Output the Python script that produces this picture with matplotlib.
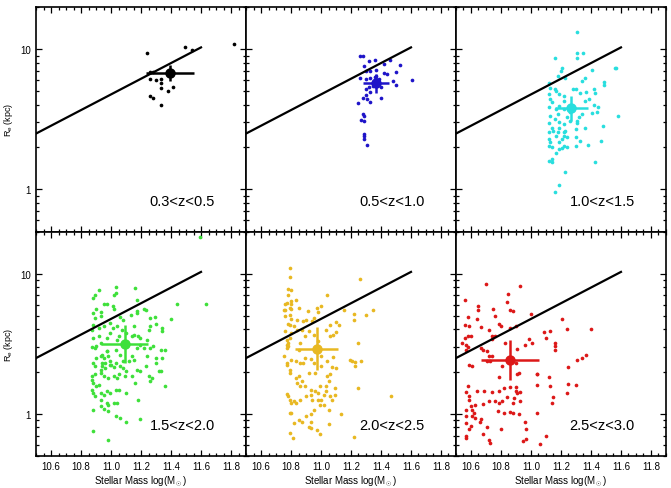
# -*- coding: utf-8 -*-
"""Re - stellar mass relation in six redshift bins"""

import matplotlib
matplotlib.use('Agg')
from matplotlib import pyplot as plt
from matplotlib.ticker import MultipleLocator, LogLocator, FixedLocator, NullFormatter
import numpy as np

plt.rcParams['font.family'] = ['Liberation Sans', 'DejaVu Sans']
plt.rcParams['mathtext.fontset'] = 'custom'
plt.rcParams['mathtext.rm'] = 'Liberation Sans'
plt.rcParams['mathtext.it'] = 'Liberation Sans'

# local relation (black line), end points
line_mass = [10.5, 11.6]
line_re = [2.5, 10.3]

z_labels = ['0.3<z<0.5', '0.5<z<1.0', '1.0<z<1.5', '1.5<z<2.0', '2.0<z<2.5', '2.5<z<3.0']
colors = ['black', '#1e14c8', '#28dede', '#3ee03a', '#e8b822', '#dc1818']

# 0.3<z<0.5
mass_1 = [11.24, 11.49, 11.54, 11.82, 11.26, 11.28, 11.26, 11.30, 11.33, 11.33,
          11.33, 11.38, 11.41, 11.26, 11.28, 11.33, 11.41]
re_1 = [9.4, 10.3, 9.9, 10.9, 6.9, 6.9, 6.1, 6.05, 6.1, 5.7,
        5.3, 5.05, 5.4, 4.66, 4.5, 3.99, 6.9]

# 0.5<z<1.0
mass_2 = [11.26, 11.28, 11.32, 11.36, 11.42, 11.46, 11.53, 11.29, 11.30, 11.33,
          11.37, 11.42, 11.44, 11.50, 11.26, 11.30, 11.33, 11.36, 11.39, 11.48,
          11.50, 11.61, 11.30, 11.32, 11.35, 11.33, 11.30, 11.28, 11.31, 11.33,
          11.25, 11.40, 11.28, 11.29, 11.27, 11.29, 11.29, 11.29, 11.29, 11.31,
          11.40, 11.37]
re_2 = [8.97, 8.97, 8.27, 8.41, 7.78, 8.41, 7.71, 7.62, 7.02, 7.02,
        7.13, 6.76, 6.64, 6.82, 6.22, 6.12, 6.18, 6.29, 6.12, 5.92,
        5.55, 6.05, 5.19, 5.33, 5.42, 4.91, 4.75, 4.48, 4.41, 4.17,
        4.12, 4.45, 3.44, 3.35, 3.14, 3.09, 2.48, 2.41, 2.28, 2.08,
        5.33, 6.46]

# 1.0<z<1.5
mass_3 = [11.31, 11.31, 11.31, 11.35, 11.16, 11.21, 11.20, 11.18, 11.23, 11.41,
          11.56, 11.57, 11.36, 11.34, 11.49, 11.49, 11.12, 11.13, 11.16, 11.17,
          11.12, 11.19, 11.22, 11.28, 11.30, 11.33, 11.37, 11.42, 11.43, 11.39,
          11.36, 11.42, 11.45, 11.44, 11.41, 11.34, 11.32, 11.58, 11.13, 11.14,
          11.12, 11.19, 11.22, 11.17, 11.13, 11.16, 11.12, 11.19, 11.22, 11.26,
          11.31, 11.31, 11.14, 11.19, 11.23, 11.22, 11.12, 11.17, 11.22, 11.30,
          11.36, 11.48, 11.30, 11.19, 11.22, 11.24, 11.12, 11.14, 11.33, 11.30,
          11.38, 11.47, 11.17, 11.19, 11.21, 11.12, 11.14, 11.14, 11.43, 11.23,
          11.19, 11.16, 11.26, 11.29, 11.22, 11.18, 11.24, 11.15, 11.18, 11.24,
          11.21, 11.12, 11.13]
re_3 = [13.3, 9.33, 8.59, 9.37, 8.64, 7.29, 7.02, 6.47, 6.23, 7.10,
        7.29, 7.29, 6.23, 5.96, 5.80, 5.57, 5.73, 5.31, 5.19, 5.05,
        4.79, 4.79, 4.66, 5.19, 5.19, 4.86, 4.97, 5.19, 4.86, 4.41,
        4.29, 3.99, 3.84, 3.54, 3.50, 3.44, 3.26, 3.31, 4.41, 4.17,
        3.84, 3.95, 4.29, 3.74, 3.35, 3.17, 2.97, 3.00, 2.92, 3.08,
        3.08, 2.97, 2.76, 2.76, 2.62, 2.55, 2.55, 2.41, 2.41, 2.69,
        2.72, 2.81, 2.35, 2.16, 2.05, 1.99, 2.05, 1.99, 2.22, 2.05,
        2.08, 2.20, 1.83, 1.94, 1.96, 1.60, 1.64, 1.56, 1.56, 1.34,
        1.08, 0.96, 3.54, 3.84, 3.74, 3.44, 3.26, 2.62, 2.55, 2.35,
        2.28, 2.28, 2.16]

# 1.5<z<2.0
mass_4 = [11.59, 11.63, 11.44, 11.40, 11.34, 11.34, 11.36, 11.36, 11.19, 11.10,
          11.06, 11.03, 10.98, 10.88, 10.88, 10.93, 10.95, 10.97, 10.98, 10.92,
          11.03, 11.16, 10.88, 10.89, 11.02, 11.03, 11.17, 10.95, 10.97, 11.01,
          11.02, 10.90, 10.88, 10.93, 10.89, 10.93, 11.08, 11.06, 11.13, 11.17,
          11.17, 11.22, 11.23, 11.26, 11.29, 11.30, 11.25, 11.04, 11.01, 10.99,
          10.95, 10.92, 10.88, 10.87, 10.88, 10.92, 10.97, 10.93, 10.87, 10.89,
          10.94, 10.90, 10.97, 10.98, 10.99, 10.96, 10.94, 10.93, 10.96, 10.99,
          11.03, 11.06, 11.08, 11.06, 11.03, 11.04, 11.10, 11.14, 11.15, 11.18,
          11.19, 11.24, 11.22, 11.26, 11.28, 11.33, 11.30, 11.34, 11.24, 11.30,
          11.23, 11.19, 11.17, 11.14, 11.10, 11.09, 11.25, 11.27, 11.26, 11.32,
          11.33, 11.19, 11.17, 11.14, 11.12, 11.15, 11.08, 11.05, 11.04, 11.02,
          10.98, 10.95, 10.93, 10.89, 10.87, 10.88, 10.92, 10.87, 10.90, 10.88,
          10.89, 10.93, 10.95, 10.97, 10.99, 11.03, 11.05, 11.10, 11.16, 11.18,
          10.93, 11.04, 11.02, 10.98, 10.87, 10.93, 10.94, 10.95, 10.97, 11.00,
          11.02, 11.07, 10.88, 10.90, 10.89, 10.99, 11.05, 11.15, 11.26]
re_4 = [18.3, 6.03, 6.03, 4.76, 4.10, 3.88, 2.87, 1.57, 0.92, 0.88,
        0.93, 0.96, 0.65, 0.75, 1.07, 1.13, 1.08, 1.19, 1.16, 7.71,
        8.05, 7.93, 6.72, 7.10, 7.10, 7.29, 6.53, 6.12, 6.12, 5.86,
        5.61, 5.61, 5.25, 5.31, 4.83, 4.97, 4.70, 4.91, 5.11, 5.25,
        5.40, 5.61, 5.48, 4.83, 4.91, 4.41, 3.95, 4.22, 4.10, 4.45,
        4.26, 4.10, 4.34, 3.99, 3.48, 3.57, 3.48, 3.21, 3.00, 2.95,
        2.64, 2.51, 2.79, 2.57, 2.37, 2.31, 2.18, 2.07, 2.12, 2.24,
        2.31, 2.18, 2.12, 2.64, 2.87, 3.39, 3.78, 3.57, 3.67, 3.61,
        3.48, 3.39, 2.95, 2.95, 3.03, 2.84, 2.51, 2.51, 2.57, 2.31,
        2.18, 2.01, 2.07, 1.85, 2.01, 1.85, 1.85, 1.80, 1.71, 2.01,
        2.01, 3.12, 2.95, 2.57, 2.37, 2.44, 2.37, 1.91, 1.80, 1.85,
        1.80, 1.85, 1.96, 1.91, 1.85, 1.66, 1.61, 1.49, 1.57, 1.41,
        1.33, 1.41, 1.37, 1.45, 1.41, 1.49, 1.49, 1.41, 1.66, 1.26,
        1.26, 1.19, 1.19, 1.04, 1.75, 2.57, 2.31, 2.51, 2.79, 2.24,
        2.16, 3.99, 2.31, 3.03, 2.18, 3.78, 3.57, 4.22, 4.22]

# 2.0<z<2.5
mass_5 = [10.79, 10.79, 10.78, 10.80, 10.78, 10.80, 10.83, 10.77, 10.75, 10.76,
          10.80, 10.79, 10.80, 10.78, 10.79, 10.84, 10.88, 10.90, 10.91, 10.97,
          11.00, 10.98, 11.04, 10.95, 10.94, 11.10, 11.12, 11.10, 11.06, 11.15,
          11.22, 11.22, 11.30, 11.35, 11.26, 11.25, 11.19, 11.21, 11.23, 11.23,
          10.78, 10.77, 10.77, 10.78, 10.75, 10.77, 10.77, 10.80, 10.83, 10.86,
          10.88, 10.89, 10.93, 10.95, 11.00, 11.04, 11.00, 11.07, 11.10, 11.08,
          10.85, 10.79, 10.79, 10.83, 10.85, 10.87, 10.86, 10.89, 10.93, 10.96,
          10.99, 11.04, 11.06, 11.05, 11.03, 11.03, 10.98, 11.02, 11.09, 11.09,
          11.07, 11.05, 11.05, 11.06, 10.77, 10.78, 10.79, 10.80, 10.82, 10.83,
          10.86, 10.90, 10.93, 10.94, 10.98, 11.00, 10.99, 11.02, 10.95, 10.93,
          10.90, 10.87, 10.85, 10.79, 10.80, 10.82, 10.93, 10.93, 10.97, 10.99,
          10.92, 10.79, 10.81, 11.13, 11.22, 11.25, 11.47, 10.76, 10.77, 10.79,
          10.80, 10.86, 10.89, 10.92, 10.95, 10.98, 10.87, 10.82, 10.84, 10.76,
          10.84, 10.92, 10.96, 11.03, 11.06, 11.08, 11.27, 10.85, 10.79, 10.80,
          10.76]
re_5 = [11.0, 9.49, 7.83, 7.71, 7.10, 6.36, 6.53, 6.18, 5.55, 5.55,
        5.61, 5.11, 4.76, 4.41, 4.34, 4.65, 4.58, 4.70, 5.40, 5.70,
        5.86, 5.31, 7.10, 4.83, 4.58, 4.50, 4.34, 3.82, 3.57, 5.55,
        5.19, 4.65, 5.11, 5.48, 9.18, 3.21, 2.41, 2.37, 2.33, 2.21,
        3.21, 3.12, 2.95, 3.03, 2.57, 2.31, 2.24, 2.44, 2.37, 2.31,
        2.31, 2.51, 2.47, 2.31, 2.57, 2.37, 2.21, 2.15, 2.12, 2.53,
        2.87, 2.07, 1.96, 1.80, 1.85, 1.71, 1.57, 1.57, 1.49, 1.45,
        1.57, 1.85, 1.91, 1.71, 1.57, 1.45, 1.41, 1.37, 1.37, 1.53,
        1.26, 1.07, 0.84, 1.33, 1.39, 1.33, 1.26, 1.19, 1.23, 1.19,
        1.25, 1.33, 1.37, 1.26, 1.26, 1.25, 1.16, 1.16, 1.07, 0.99,
        0.96, 0.88, 0.91, 1.01, 1.01, 0.86, 0.88, 0.79, 0.77, 0.72,
        0.81, 0.73, 0.67, 0.99, 0.68, 1.53, 1.35, 4.97, 3.39, 3.48,
        3.78, 3.21, 3.57, 3.88, 3.67, 3.30, 3.99, 4.22, 3.99, 3.88,
        1.66, 1.96, 1.96, 3.99, 4.34, 3.67, 2.37, 5.70, 5.70, 6.12,
        6.12]

# 2.5<z<3.0
mass_6 = [10.70, 10.93, 10.85, 10.56, 10.65, 10.65, 10.75, 10.76, 10.84, 10.86,
          10.88, 11.00, 10.58, 10.64, 10.56, 10.59, 10.67, 10.72, 10.79, 10.80,
          10.86, 10.90, 11.09, 11.13, 11.10, 11.21, 11.24, 11.40, 10.74, 10.76,
          10.58, 10.60, 10.56, 10.74, 10.99, 10.96, 11.01, 11.16, 11.16, 11.16,
          10.54, 10.57, 10.58, 10.57, 10.67, 10.68, 10.83, 10.91, 10.71, 10.72,
          10.74, 10.71, 10.73, 10.81, 10.90, 10.92, 10.91, 10.59, 10.61, 10.79,
          11.04, 11.12, 11.31, 11.34, 11.37, 11.25, 10.58, 10.57, 10.59, 10.59,
          10.64, 10.69, 10.74, 10.79, 10.82, 10.86, 10.90, 10.90, 10.91, 10.93,
          10.89, 10.88, 10.93, 10.84, 10.76, 10.72, 10.68, 10.63, 10.60, 10.57,
          10.61, 10.62, 10.61, 10.63, 10.67, 10.57, 10.57, 10.60, 10.59, 10.57,
          10.57, 10.68, 10.72, 10.73, 10.80, 10.82, 10.86, 10.88, 10.92, 10.96,
          10.97, 10.97, 10.95, 11.10, 11.06, 11.04, 11.04, 11.04, 11.13, 11.15,
          11.14, 11.24, 11.25, 11.30, 10.81, 10.79, 10.78, 10.66, 10.71]
re_6 = [8.51, 8.22, 7.17, 6.47, 5.92, 5.55, 5.63, 5.03, 6.26, 5.55,
        5.40, 5.17, 4.89, 4.78, 4.34, 4.22, 4.15, 3.95, 4.41, 4.22,
        4.10, 4.22, 3.84, 3.88, 3.48, 4.76, 4.06, 4.06, 3.57, 3.57,
        3.61, 3.57, 3.48, 3.42, 3.42, 3.12, 3.21, 3.21, 3.03, 2.84,
        3.21, 3.12, 3.00, 2.84, 2.95, 2.84, 3.21, 2.90, 2.79, 2.60,
        2.60, 2.37, 2.37, 2.18, 2.31, 1.96, 1.92, 2.24, 2.21, 1.83,
        1.92, 1.83, 2.44, 2.51, 2.64, 2.15, 1.59, 1.43, 1.33, 1.26,
        1.46, 1.45, 1.43, 1.46, 1.53, 1.56, 1.56, 1.45, 1.41, 1.43,
        1.30, 1.19, 1.23, 1.31, 1.23, 1.23, 1.18, 1.16, 1.13, 1.07,
        1.07, 1.01, 0.97, 0.93, 0.92, 0.96, 0.86, 0.82, 0.78, 0.69,
        0.67, 0.72, 0.65, 0.62, 0.78, 1.01, 1.03, 1.01, 0.99, 0.88,
        0.78, 0.66, 0.64, 0.69, 0.61, 1.01, 1.60, 1.91, 1.59, 1.32,
        1.19, 1.41, 1.64, 1.61, 1.23, 1.19, 1.04, 0.88, 0.80]

# median point of each bin with its error bars (dex in log Re)
med_mass = [11.39, 11.365, 11.27, 11.09, 10.97, 10.86]
med_re = [6.76, 5.7, 3.8, 3.16, 2.92, 2.44]
med_mass_err = [0.16, 0.087, 0.108, 0.156, 0.144, 0.196]
med_re_err = [0.06, 0.069, 0.089, 0.137, 0.155, 0.143]

all_mass = [mass_1, mass_2, mass_3, mass_4, mass_5, mass_6]
all_re = [re_1, re_2, re_3, re_4, re_5, re_6]

fig, axes = plt.subplots(2, 3, figsize=(6.71, 4.89), dpi=100, sharex=True, sharey=True)
fig.subplots_adjust(left=0.0537, right=0.9925, bottom=0.0654, top=0.9836,
                    wspace=0, hspace=0)

for i, ax in enumerate(axes.flat):
    c = colors[i]
    ax.scatter(all_mass[i], all_re[i], s=7, color=c, linewidths=0, zorder=2)
    ax.plot(line_mass, line_re, color='black', lw=1.6, zorder=3)

    m, r = med_mass[i], med_re[i]
    lo = r - r * 10 ** (-med_re_err[i])
    hi = r * 10 ** med_re_err[i] - r
    ax.errorbar(m, r, xerr=med_mass_err[i], yerr=[[lo], [hi]], fmt='o', ms=6.5,
                color=c, elinewidth=1.8, capsize=0, zorder=4)

    ax.text(0.852, 0.12, z_labels[i], transform=ax.transAxes, ha='right',
            va='baseline', fontsize=10.5)

    ax.set_yscale('log')
    ax.set_xlim(10.5, 11.9)
    ax.set_ylim(0.5, 20)
    ax.xaxis.set_major_locator(MultipleLocator(0.2))
    ax.xaxis.set_minor_locator(MultipleLocator(0.05))
    ax.yaxis.set_major_locator(FixedLocator([1, 10]))
    ax.yaxis.set_minor_locator(LogLocator(base=10, subs=np.arange(2, 10)))
    ax.yaxis.set_minor_formatter(NullFormatter())
    ax.tick_params(which='both', direction='in', top=True, right=True,
                   labelsize=7, width=0.9)
    ax.tick_params(which='major', length=4.5)
    ax.tick_params(which='minor', length=2.5)
    for sp in ax.spines.values():
        sp.set_linewidth(1.2)

axes[0, 0].set_yticklabels(['1', '10'])
for ax in axes[:, 0]:
    ax.set_ylabel(r'R$_\mathrm{e}$ (kpc)', fontsize=6.5, labelpad=4)
for ax in axes[1, :]:
    ax.set_xlabel(r'Stellar Mass log($\mathrm{M}_\odot$)', fontsize=7, labelpad=2)

plt.savefig('out.png', dpi=100)
